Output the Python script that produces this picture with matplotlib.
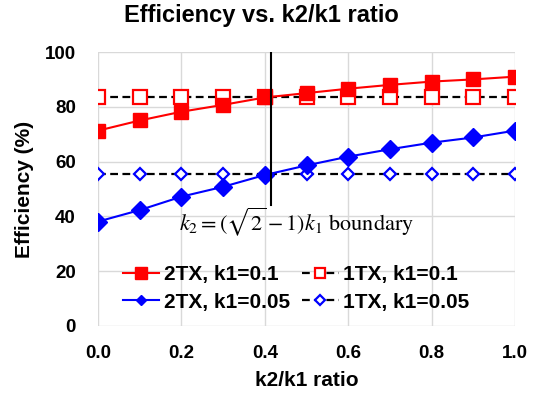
import matplotlib
matplotlib.use("Agg")
import matplotlib.pyplot as plt
import numpy as np

ratio = [0.0, 0.1, 0.2, 0.3, 0.4, 0.5, 0.6, 0.7, 0.8, 0.9, 1.0]
eff_2tx_k01 = [71.3, 75.0, 78.2, 80.7, 83.4, 85.0, 86.6, 88.0, 89.2, 90.0, 91.0]
eff_1tx_k01 = [83.4] * 11
eff_2tx_k005 = [38.1, 42.3, 47.2, 50.8, 55.1, 58.6, 61.8, 64.5, 66.9, 68.8, 71.3]
eff_1tx_k005 = [55.5] * 11
boundary = np.sqrt(2) - 1

plt.rcParams['font.family'] = ['Liberation Sans', 'DejaVu Sans']
plt.rcParams['mathtext.fontset'] = 'stix'

fig = plt.figure(figsize=(5.42, 3.97), dpi=100)
ax = fig.add_axes([0.181, 0.179, 0.769, 0.69])

l1, = ax.plot(ratio, eff_2tx_k01, '-', color='red', marker='s', ms=10, lw=1.5,
              label='2TX, k1=0.1', zorder=4)
l2, = ax.plot(ratio, eff_1tx_k01, color='black', ls=(0, (3.5, 2)), lw=1.6,
              marker='s', ms=9.5, mfc='white', mec='red', mew=1.6,
              label='1TX, k1=0.1', zorder=3)
l3, = ax.plot(ratio, eff_2tx_k005, '-', color='blue', marker='D', ms=9.5, lw=1.5,
              label='2TX, k1=0.05', zorder=4)
l4, = ax.plot(ratio, eff_1tx_k005, color='black', ls=(0, (3.5, 2)), lw=1.6,
              marker='D', ms=5.8, mfc='white', mec='blue', mew=1.6,
              label='1TX, k1=0.05', zorder=3)

ax.plot([boundary, boundary], [44, 100], color='black', lw=1.5, zorder=5)
ax.text(0.477, 38, r'$k_2=(\sqrt{2}-1)k_1$ boundary', fontsize=16,
        family='STIXGeneral', ha='center', va='center', math_fontfamily='stix')

ax.set_xlim(0, 1.0)
ax.set_ylim(0, 100)
ax.set_xticks(np.arange(0, 1.01, 0.2))
ax.set_yticks(np.arange(0, 101, 20))
ax.set_xticklabels(['0.0', '0.2', '0.4', '0.6', '0.8', '1.0'])
ax.grid(True, color='#d9d9d9', lw=1)
ax.set_axisbelow(True)
for s in ax.spines.values():
    s.set_visible(False)
ax.tick_params(length=0, labelsize=13.5)
ax.tick_params(axis='y', pad=16)
ax.tick_params(axis='x', pad=14)
for lab in ax.get_xticklabels() + ax.get_yticklabels():
    lab.set_fontweight('bold')

fig.text(0.482, 0.962, 'Efficiency vs. k2/k1 ratio', fontsize=17,
         fontweight='bold', ha='center', va='center')
fig.text(0.5 * (98 + 515) / 542, 1 - 380 / 397, 'k2/k1 ratio', fontsize=15,
         fontweight='bold', ha='center', va='center')
fig.text(25 / 542, 1 - 189 / 397, 'Efficiency (%)', fontsize=15,
         fontweight='bold', ha='center', va='center', rotation=90)

leg = ax.legend([l1, l3, l2, l4],
                ['2TX, k1=0.1', '2TX, k1=0.05', '1TX, k1=0.1', '1TX, k1=0.05'],
                ncol=2, loc='center', bbox_to_anchor=(0.475, 0.137),
                frameon=False, prop={'weight': 'bold', 'size': 15},
                handlelength=1.75, columnspacing=0.6, handletextpad=0.2,
                labelspacing=0.4, borderaxespad=0)
for h, size in zip(leg.legend_handles, [8, 5, 6.5, 5]):
    h.set_markersize(size)

fig.savefig('out.png', dpi=100)
